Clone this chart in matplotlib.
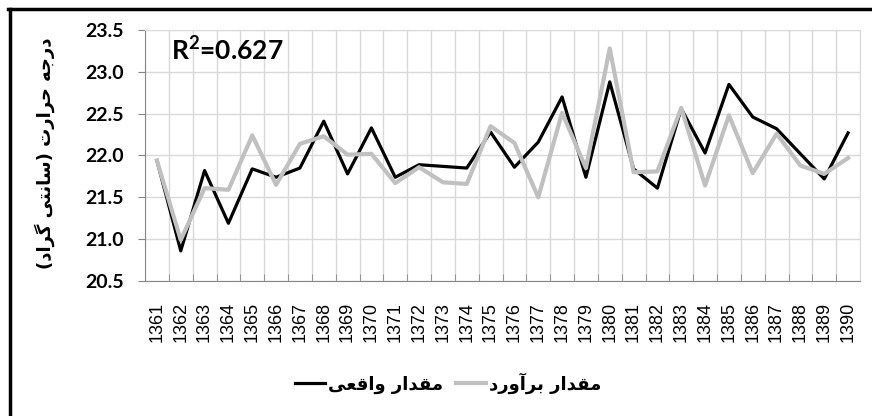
import numpy as np
import matplotlib
matplotlib.use("Agg")
import matplotlib.pyplot as plt
from matplotlib.lines import Line2D

# سال ها و داده ها
years = [str(y) for y in range(1361, 1391)]
actual = [21.94, 20.86, 21.82, 21.19, 21.84, 21.74, 21.85, 22.41, 21.78, 22.33,
          21.74, 21.89, 21.87, 21.85, 22.28, 21.86, 22.16, 22.70, 21.74, 22.88,
          21.84, 21.61, 22.56, 22.03, 22.85, 22.46, 22.32, 22.02, 21.72, 22.27]
estimated = [21.94, 20.99, 21.61, 21.59, 22.24, 21.65, 22.14, 22.23, 22.01, 22.02,
             21.67, 21.86, 21.68, 21.66, 22.35, 22.15, 21.50, 22.51, 21.85, 23.28,
             21.80, 21.81, 22.57, 21.64, 22.48, 21.79, 22.26, 21.88, 21.78, 21.97]
yticks = [20.5, 21.0, 21.5, 22.0, 22.5, 23.0, 23.5]
r2_text = "R$^2$=0.627"
ylabel_fa = "درجه حرارت (سانتی گراد)"
label_actual = "مقدار واقعی"
label_est = "مقدار برآورد"

plt.rcParams['mathtext.fontset'] = 'custom'
plt.rcParams['mathtext.rm'] = 'Lato:bold'
plt.rcParams['mathtext.it'] = 'Lato:bold'
plt.rcParams['mathtext.bf'] = 'Lato:bold'

# شکل دادن ساده به حروف فارسی (matplotlib خودش انجام نمی دهد)
FORMS = {
    'ا': (0xFE8D, 0xFE8E, None, None), 'آ': (0xFE81, 0xFE82, None, None),
    'د': (0xFEA9, 0xFEAA, None, None), 'ر': (0xFEAD, 0xFEAE, None, None),
    'و': (0xFEED, 0xFEEE, None, None),
    'ب': (0xFE8F, 0xFE90, 0xFE91, 0xFE92), 'ت': (0xFE95, 0xFE96, 0xFE97, 0xFE98),
    'ج': (0xFE9D, 0xFE9E, 0xFE9F, 0xFEA0), 'ح': (0xFEA1, 0xFEA2, 0xFEA3, 0xFEA4),
    'س': (0xFEB1, 0xFEB2, 0xFEB3, 0xFEB4), 'ع': (0xFEC9, 0xFECA, 0xFECB, 0xFECC),
    'ق': (0xFED5, 0xFED6, 0xFED7, 0xFED8), 'م': (0xFEE1, 0xFEE2, 0xFEE3, 0xFEE4),
    'ن': (0xFEE5, 0xFEE6, 0xFEE7, 0xFEE8), 'ه': (0xFEE9, 0xFEEA, 0xFEEB, 0xFEEC),
    'ی': (0xFEEF, 0xFEF0, 0xFEF3, 0xFEF4), 'گ': (0xFB92, 0xFB93, 0xFB94, 0xFB95),
}


def dual(c):
    return c in FORMS and FORMS[c][2] is not None


def fa(text):
    out = []
    for i, c in enumerate(text):
        if c not in FORMS:
            out.append(c)
            continue
        prev = text[i - 1] if i > 0 else ''
        nxt = text[i + 1] if i + 1 < len(text) else ''
        p = dual(prev)
        n = dual(c) and nxt in FORMS
        f = FORMS[c]
        if p and n:
            out.append(chr(f[3]))
        elif p:
            out.append(chr(f[1]))
        elif n:
            out.append(chr(f[2]))
        else:
            out.append(chr(f[0]))
    s = ''.join(reversed(out))
    return s.translate(str.maketrans('()', ')('))


fig = plt.figure(figsize=(8.72, 4.16), dpi=100)
ax = fig.add_axes([145 / 872, 1 - 281 / 416, 715 / 872, 251 / 416])

x = np.arange(len(years))
ax.plot(x, actual, color='black', lw=2.3, zorder=3, label=fa(label_actual))
ax.plot(x, estimated, color='#C0C0C0', lw=3.0, zorder=4, label=fa(label_est))

ax.set_xlim(-0.5, len(years) - 0.5)
ax.set_ylim(20.5, 23.5)
ax.set_yticks(yticks)
ax.set_yticklabels([f"{v:.1f}" for v in yticks], fontfamily='Lato',
                   fontweight='bold', fontsize=14)
ax.set_xticks(x)
ax.set_xticklabels(years, rotation=90, fontfamily='Liberation Sans', fontsize=13)
ax.set_xticks(np.arange(len(years) + 1) - 0.5, minor=True)

ax.grid(False)
ax.grid(True, which='minor', axis='x', color='#D9D9D9', lw=1)
ax.grid(True, which='major', axis='y', color='#D9D9D9', lw=1)
ax.set_axisbelow(True)
ax.tick_params(axis='x', which='major', length=0, pad=15)
ax.tick_params(axis='x', which='minor', length=5, direction='in', color='#868686')
ax.tick_params(axis='y', length=5, color='#868686', pad=10)
for side in ['left', 'bottom']:
    ax.spines[side].set_color('#868686')
for side in ['top', 'right']:
    ax.spines[side].set_color('#D9D9D9')

ax.text(0.036, 0.975, r2_text, transform=ax.transAxes, ha='left', va='top',
        fontfamily='Lato', fontweight='bold', fontsize=19)

fig.text(45 / 872, 1 - 153 / 416, fa(ylabel_fa), rotation=90, ha='center',
         va='center', fontfamily='DejaVu Sans', fontweight='bold', fontsize=13)

leg = fig.legend(loc='center', bbox_to_anchor=(448 / 872, 1 - 383 / 416), ncol=2,
                 frameon=False, prop={'family': 'DejaVu Sans', 'weight': 'bold', 'size': 13},
                 handlelength=1.7, handletextpad=0.15, columnspacing=0.7)

# قاب دور شکل
fig.add_artist(Line2D([9.5 / 872, 9.5 / 872], [0, 1 - 8.5 / 416], color='black', lw=2.5,
                      transform=fig.transFigure))
fig.add_artist(Line2D([8 / 872, 1], [1 - 8.5 / 416, 1 - 8.5 / 416], color='black', lw=2.5,
                      transform=fig.transFigure))

fig.savefig('out.png', dpi=100)
